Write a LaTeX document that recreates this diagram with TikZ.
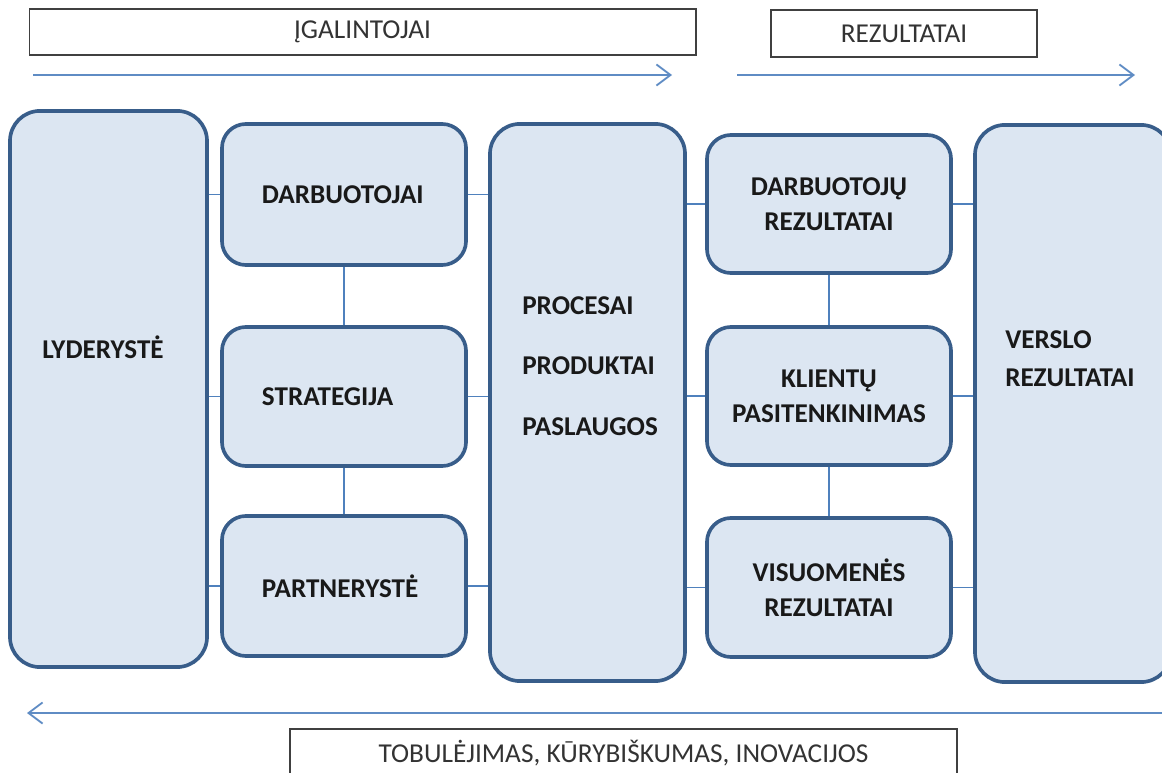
\documentclass[tikz,border=0pt]{standalone}
\usepackage{fontspec}
\setmainfont{Carlito}
\usetikzlibrary{arrows.meta}
\definecolor{boxfill}{RGB}{220,230,242}
\definecolor{boxline}{RGB}{56,93,138}
\definecolor{linkblue}{RGB}{79,129,189}
\definecolor{arrowblue}{RGB}{95,140,196}
\tikzset{
  block/.style={draw=boxline, fill=boxfill, line width=2.6pt, rounded corners=0.6cm,
    inner sep=0pt, align=center, text=black!90, font=\fontsize{19.3}{25}\selectfont\bfseries},
  tallblock/.style={block, rounded corners=0.75cm, minimum width=4.9cm, minimum height=13.9cm},
  smallblock/.style={block, minimum width=6.1cm, minimum height=3.5cm},
  leftblock/.style={smallblock, text width=4.1cm, align=left},
  headbox/.style={draw=black!75, fill=white, line width=1.3pt, inner sep=0pt,
    minimum height=1.15cm, text=black!80, font=\fontsize{19.4}{24}\selectfont},
  blocklabel/.style={inner sep=0pt, align=left, text=black!90, font=\fontsize{19.3}{25}\selectfont\bfseries},
  link/.style={draw=linkblue, line width=1.3pt},
  flow/.style={draw=arrowblue, line width=1.3pt, -{Straight Barb[length=10pt,width=15pt]}}
}
\begin{document}
\begin{tikzpicture}[x=0.025cm, y=-0.025cm]
  \clip (0,0) rectangle (1162,773);
  \draw
    (362.5,32) node[headbox, minimum width=16.65cm] (igal) {ĮGALINTOJAI}
    (904,33.5) node[headbox, minimum width=6.65cm, minimum height=1.175cm] (rez) {REZULTATAI}
    (623.5,753) node[headbox, minimum width=16.675cm, minimum height=1.2cm] (tob) {TOBULĖJIMAS, KŪRYBIŠKUMAS, INOVACIJOS}
    (108.5,389) node[tallblock, minimum width=4.925cm] (lyd) {}
    (587.5,402.5) node[tallblock, minimum width=4.875cm, minimum height=13.925cm] (proc) {}
    (1073,403.5) node[tallblock, minimum height=13.925cm] (versl) {}
    (344,194.5) node[leftblock, minimum height=3.525cm] (darb) {DARBUOTOJAI}
    (344,396.5) node[leftblock, minimum height=3.475cm] (strat) {STRATEGIJA}
    (344,586) node[leftblock] (partn) {PARTNERYSTĖ}
    (829,204) node[smallblock, minimum height=3.45cm] (dres) {DARBUOTOJŲ\\REZULTATAI}
    (829,396) node[smallblock, minimum height=3.45cm] (klient) {KLIENTŲ\\PASITENKINIMAS}
    (829,587.5) node[smallblock, minimum height=3.475cm] (visuom) {VISUOMENĖS\\REZULTATAI}
    (103,347) node[blocklabel] (lydtxt) {LYDERYSTĖ}
    (522,366) node[blocklabel, anchor=west] (proctxt) {PROCESAI\\[18pt]PRODUKTAI\\[18pt]PASLAUGOS}
    (1005,359) node[blocklabel, anchor=west] (versltxt) {VERSLO\\[2pt]REZULTATAI};
  \coordinate (fwd1) at (33,75);
  \coordinate (fwd1end) at (672,75);
  \coordinate (fwd2) at (737,75);
  \coordinate (fwd2end) at (1135,75);
  \coordinate (back) at (1165,713);
  \coordinate (backend) at (27,713);
  \begin{scope}[link]
    \draw (lyd.east |- darb.west) to (darb.west);
    \draw (lyd.east |- strat.west) to (strat.west);
    \draw (lyd.east |- partn.west) to (partn.west);
    \draw (darb.east) to (darb.east -| proc.west);
    \draw (strat.east) to (strat.east -| proc.west);
    \draw (partn.east) to (partn.east -| proc.west);
    \draw (proc.east |- dres.west) to (dres.west);
    \draw (proc.east |- klient.west) to (klient.west);
    \draw (proc.east |- visuom.west) to (visuom.west);
    \draw (dres.east) to (dres.east -| versl.west);
    \draw (klient.east) to (klient.east -| versl.west);
    \draw (visuom.east) to (visuom.east -| versl.west);
    \draw (darb.south) to (strat.north);
    \draw (strat.south) to (partn.north);
    \draw (dres.south) to (klient.north);
    \draw (klient.south) to (visuom.north);
  \end{scope}
  \begin{scope}[flow]
    \draw (fwd1) to (fwd1end);
    \draw (fwd2) to (fwd2end);
    \draw (back) to (backend);
  \end{scope}
\end{tikzpicture}
\end{document}
